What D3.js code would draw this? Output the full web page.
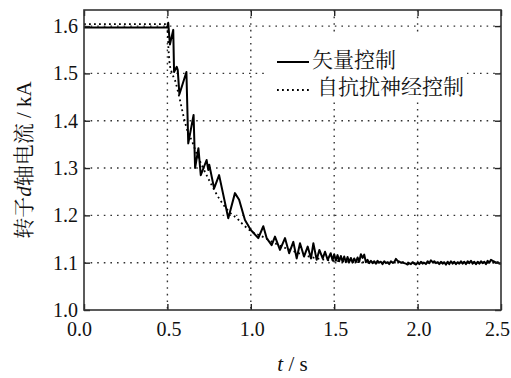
<!DOCTYPE html>
<html>
<head>
<meta charset="utf-8">
<script src="https://cdn.jsdelivr.net/npm/d3@7"></script>
<style>
    body { margin: 0; background: #fff; }
    svg { display: block; }
</style>
</head>
<body>
<div id="chart"></div>
<script>
// tick values
const xTicks = [0, 0.5, 1.0, 1.5, 2.0, 2.5]
const yTicks = [1.0, 1.1, 1.2, 1.3, 1.4, 1.5, 1.6]

const seriesNames = ['矢量控制', '自抗扰神经控制']

// vector control (solid), [t, i_d]
const vectorCtrl = [
    [0, 1.597], [0.500, 1.597], [0.505, 1.607], [0.515, 1.561], [0.535, 1.592], [0.540, 1.503],
    [0.556, 1.514], [0.562, 1.507], [0.572, 1.456], [0.614, 1.503], [0.625, 1.352], [0.657, 1.412],
    [0.666, 1.300], [0.686, 1.342], [0.700, 1.285], [0.735, 1.317], [0.745, 1.296], [0.751, 1.307],
    [0.780, 1.257], [0.810, 1.285], [0.865, 1.194], [0.905, 1.247], [0.930, 1.233], [0.965, 1.190],
    [1.000, 1.169], [1.045, 1.152], [1.075, 1.177], [1.095, 1.152], [1.125, 1.137], [1.145, 1.155],
    [1.175, 1.127], [1.205, 1.152], [1.230, 1.120], [1.255, 1.144], [1.275, 1.109], [1.295, 1.141],
    [1.319, 1.113], [1.341, 1.134], [1.361, 1.109], [1.375, 1.141], [1.395, 1.106], [1.411, 1.127],
    [1.431, 1.109], [1.445, 1.123], [1.461, 1.106], [1.479, 1.120], [1.490, 1.105],
    [1.50, 1.118], [1.51, 1.104], [1.52, 1.116], [1.53, 1.103], [1.54, 1.114], [1.55, 1.102],
    [1.56, 1.113], [1.57, 1.101], [1.58, 1.112], [1.59, 1.101], [1.60, 1.110], [1.61, 1.100],
    [1.62, 1.109], [1.63, 1.101], [1.64, 1.111], [1.65, 1.102], [1.66, 1.118], [1.67, 1.110],
    [1.68, 1.117], [1.69, 1.101], [1.70, 1.106], [1.71, 1.099], [1.72, 1.104], [1.73, 1.099],
    [1.74, 1.103], [1.75, 1.098], [1.76, 1.104], [1.77, 1.100], [1.78, 1.102], [1.79, 1.097],
    [1.80, 1.103], [1.81, 1.099], [1.82, 1.101], [1.83, 1.097], [1.84, 1.103], [1.85, 1.100],
    [1.86, 1.101], [1.87, 1.108], [1.88, 1.104], [1.89, 1.102], [1.90, 1.100], [1.91, 1.101],
    [1.92, 1.099], [1.93, 1.098], [1.94, 1.096], [1.95, 1.099], [1.96, 1.097], [1.97, 1.101],
    [1.98, 1.098], [1.99, 1.096], [2.00, 1.100], [2.01, 1.097], [2.02, 1.102], [2.03, 1.098],
    [2.04, 1.100], [2.05, 1.097], [2.06, 1.103], [2.07, 1.099], [2.08, 1.105], [2.09, 1.101],
    [2.10, 1.103], [2.11, 1.099], [2.12, 1.101], [2.13, 1.097], [2.14, 1.102], [2.15, 1.098],
    [2.16, 1.101], [2.17, 1.096], [2.18, 1.102], [2.19, 1.097], [2.20, 1.103], [2.21, 1.098],
    [2.22, 1.102], [2.23, 1.097], [2.24, 1.101], [2.25, 1.098], [2.26, 1.103], [2.27, 1.098],
    [2.28, 1.102], [2.29, 1.097], [2.30, 1.103], [2.31, 1.099], [2.32, 1.104], [2.33, 1.098],
    [2.34, 1.102], [2.35, 1.097], [2.36, 1.102], [2.37, 1.098], [2.38, 1.103], [2.39, 1.099],
    [2.40, 1.102], [2.41, 1.097], [2.42, 1.104], [2.43, 1.100], [2.44, 1.106], [2.45, 1.104],
    [2.46, 1.102], [2.47, 1.100], [2.48, 1.101], [2.49, 1.098], [2.50, 1.097]
]

// ADRC neural control (dotted), [t, i_d]
const adrcCtrl = [
    [0, 1.604], [0.498, 1.604], [0.502, 1.585], [0.506, 1.555], [0.512, 1.525], [0.525, 1.503],
    [0.545, 1.486], [0.575, 1.444], [0.595, 1.412], [0.625, 1.374], [0.645, 1.359], [0.675, 1.331],
    [0.705, 1.307], [0.755, 1.271], [0.815, 1.233], [0.875, 1.206], [0.925, 1.191], [0.955, 1.180],
    [1.005, 1.166], [1.075, 1.154], [1.150, 1.140], [1.250, 1.125], [1.350, 1.113], [1.450, 1.106],
    [1.600, 1.102], [1.800, 1.100], [2.500, 1.100]
]

const width = 511, height = 378
const margin = { left: 84, right: 10, top: 10, bottom: 68 }

const cjk = "'Noto Serif CJK SC', 'Noto Sans CJK SC', serif"
const serif = "'Liberation Serif', 'Times New Roman', serif"

const svg = d3.select('#chart').append('svg')
    .attr('width', width)
    .attr('height', height)

const x = d3.scaleLinear().domain([0, 2.5]).range([margin.left, width - margin.right])
const y = d3.scaleLinear().domain([1.0, 1.634]).range([height - margin.bottom, margin.top])

const gridColor = '#333'

// gridlines
svg.append('g')
    .selectAll('line')
    .data(xTicks.slice(1, -1))
    .join('line')
    .attr('x1', d => x(d)).attr('x2', d => x(d))
    .attr('y1', y.range()[1]).attr('y2', y.range()[0])
    .attr('stroke', gridColor)
    .attr('stroke-width', 1.4)
    .attr('stroke-dasharray', '1.6,5')

svg.append('g')
    .selectAll('line')
    .data(yTicks.slice(1))
    .join('line')
    .attr('y1', d => y(d)).attr('y2', d => y(d))
    .attr('x1', x.range()[0]).attr('x2', x.range()[1])
    .attr('stroke', gridColor)
    .attr('stroke-width', 1.4)
    .attr('stroke-dasharray', '1.6,5')

// legend background hides the grid behind it
svg.append('rect')
    .attr('x', 265).attr('y', 36)
    .attr('width', 202).attr('height', 66)
    .attr('fill', '#fff')

const line = d3.line()
    .x(d => x(d[0]))
    .y(d => y(d[1]))

svg.append('path')
    .datum(adrcCtrl)
    .attr('fill', 'none')
    .attr('stroke', '#000')
    .attr('stroke-width', 1.8)
    .attr('stroke-dasharray', '1.8,3.2')
    .attr('d', line.curve(d3.curveMonotoneX))

svg.append('path')
    .datum(vectorCtrl)
    .attr('fill', 'none')
    .attr('stroke', '#000')
    .attr('stroke-width', 2)
    .attr('stroke-linejoin', 'round')
    .attr('d', line.curve(d3.curveLinear))

// axes with inward ticks
const frame = svg.append('g')

const xAxis = frame.append('g')
    .attr('transform', `translate(0, ${y.range()[0]})`)
    .call(d3.axisBottom(x).tickValues(xTicks).tickFormat(d3.format('.1f')).tickSizeInner(-6).tickSizeOuter(0).tickPadding(12))

frame.append('g')
    .attr('transform', `translate(${x.range()[0]}, 0)`)
    .call(d3.axisLeft(y).tickValues(yTicks).tickFormat(d3.format('.1f')).tickSizeInner(-6).tickSizeOuter(0).tickPadding(6))

frame.append('g')
    .attr('transform', `translate(0, ${y.range()[1]})`)
    .call(d3.axisTop(x).tickValues(xTicks).tickFormat('').tickSizeInner(-6).tickSizeOuter(0))

frame.append('g')
    .attr('transform', `translate(${x.range()[1]}, 0)`)
    .call(d3.axisRight(y).tickValues(yTicks).tickFormat('').tickSizeInner(-6).tickSizeOuter(0))

frame.selectAll('.domain').remove()
frame.selectAll('.tick line').attr('stroke', '#222').attr('stroke-width', 1.4)
frame.selectAll('.tick text')
    .style('font-family', serif)
    .style('font-size', '20px')
    .attr('fill', '#111')

// end labels sit a little left of their ticks, as in the original
xAxis.selectAll('.tick text')
    .attr('dx', (d, i) => (i === 0 ? -5 : i === xTicks.length - 1 ? -4 : 1))

frame.append('rect')
    .attr('x', x.range()[0]).attr('y', y.range()[1])
    .attr('width', x.range()[1] - x.range()[0])
    .attr('height', y.range()[0] - y.range()[1])
    .attr('fill', 'none')
    .attr('stroke', '#333')
    .attr('stroke-width', 1.6)

// legend
const legend = svg.append('g')

legend.append('line')
    .attr('x1', 277).attr('x2', 309).attr('y1', 62).attr('y2', 62)
    .attr('stroke', '#000').attr('stroke-width', 2)

legend.append('line')
    .attr('x1', 277).attr('x2', 310).attr('y1', 90).attr('y2', 90)
    .attr('stroke', '#000').attr('stroke-width', 1.8)
    .attr('stroke-dasharray', '1.8,3.2')

legend.selectAll('text')
    .data(seriesNames)
    .join('text')
    .attr('x', (d, i) => i === 0 ? 312 : 317)
    .attr('y', (d, i) => i === 0 ? 67 : 94)
    .style('font-family', cjk)
    .style('font-size', '21px')
    .attr('fill', '#111')
    .text(d => d)

// axis titles
const yTitle = svg.append('text')
    .attr('transform', `translate(31, ${(y.range()[0] + y.range()[1]) / 2}) rotate(-90)`)
    .attr('text-anchor', 'middle')
    .style('font-size', '21px')
    .attr('fill', '#111')

yTitle.append('tspan').style('font-family', cjk).text('转子')
yTitle.append('tspan').style('font-family', serif).style('font-style', 'italic').text('d')
yTitle.append('tspan').style('font-family', cjk).text('轴电流')
yTitle.append('tspan').style('font-family', serif).text(' / kA')

const xTitle = svg.append('text')
    .attr('x', (x.range()[0] + x.range()[1]) / 2)
    .attr('y', 371)
    .attr('text-anchor', 'middle')
    .style('font-family', serif)
    .style('font-size', '21px')
    .attr('fill', '#111')

xTitle.append('tspan').style('font-style', 'italic').text('t')
xTitle.append('tspan').text(' / s')
</script>
</body>
</html>
